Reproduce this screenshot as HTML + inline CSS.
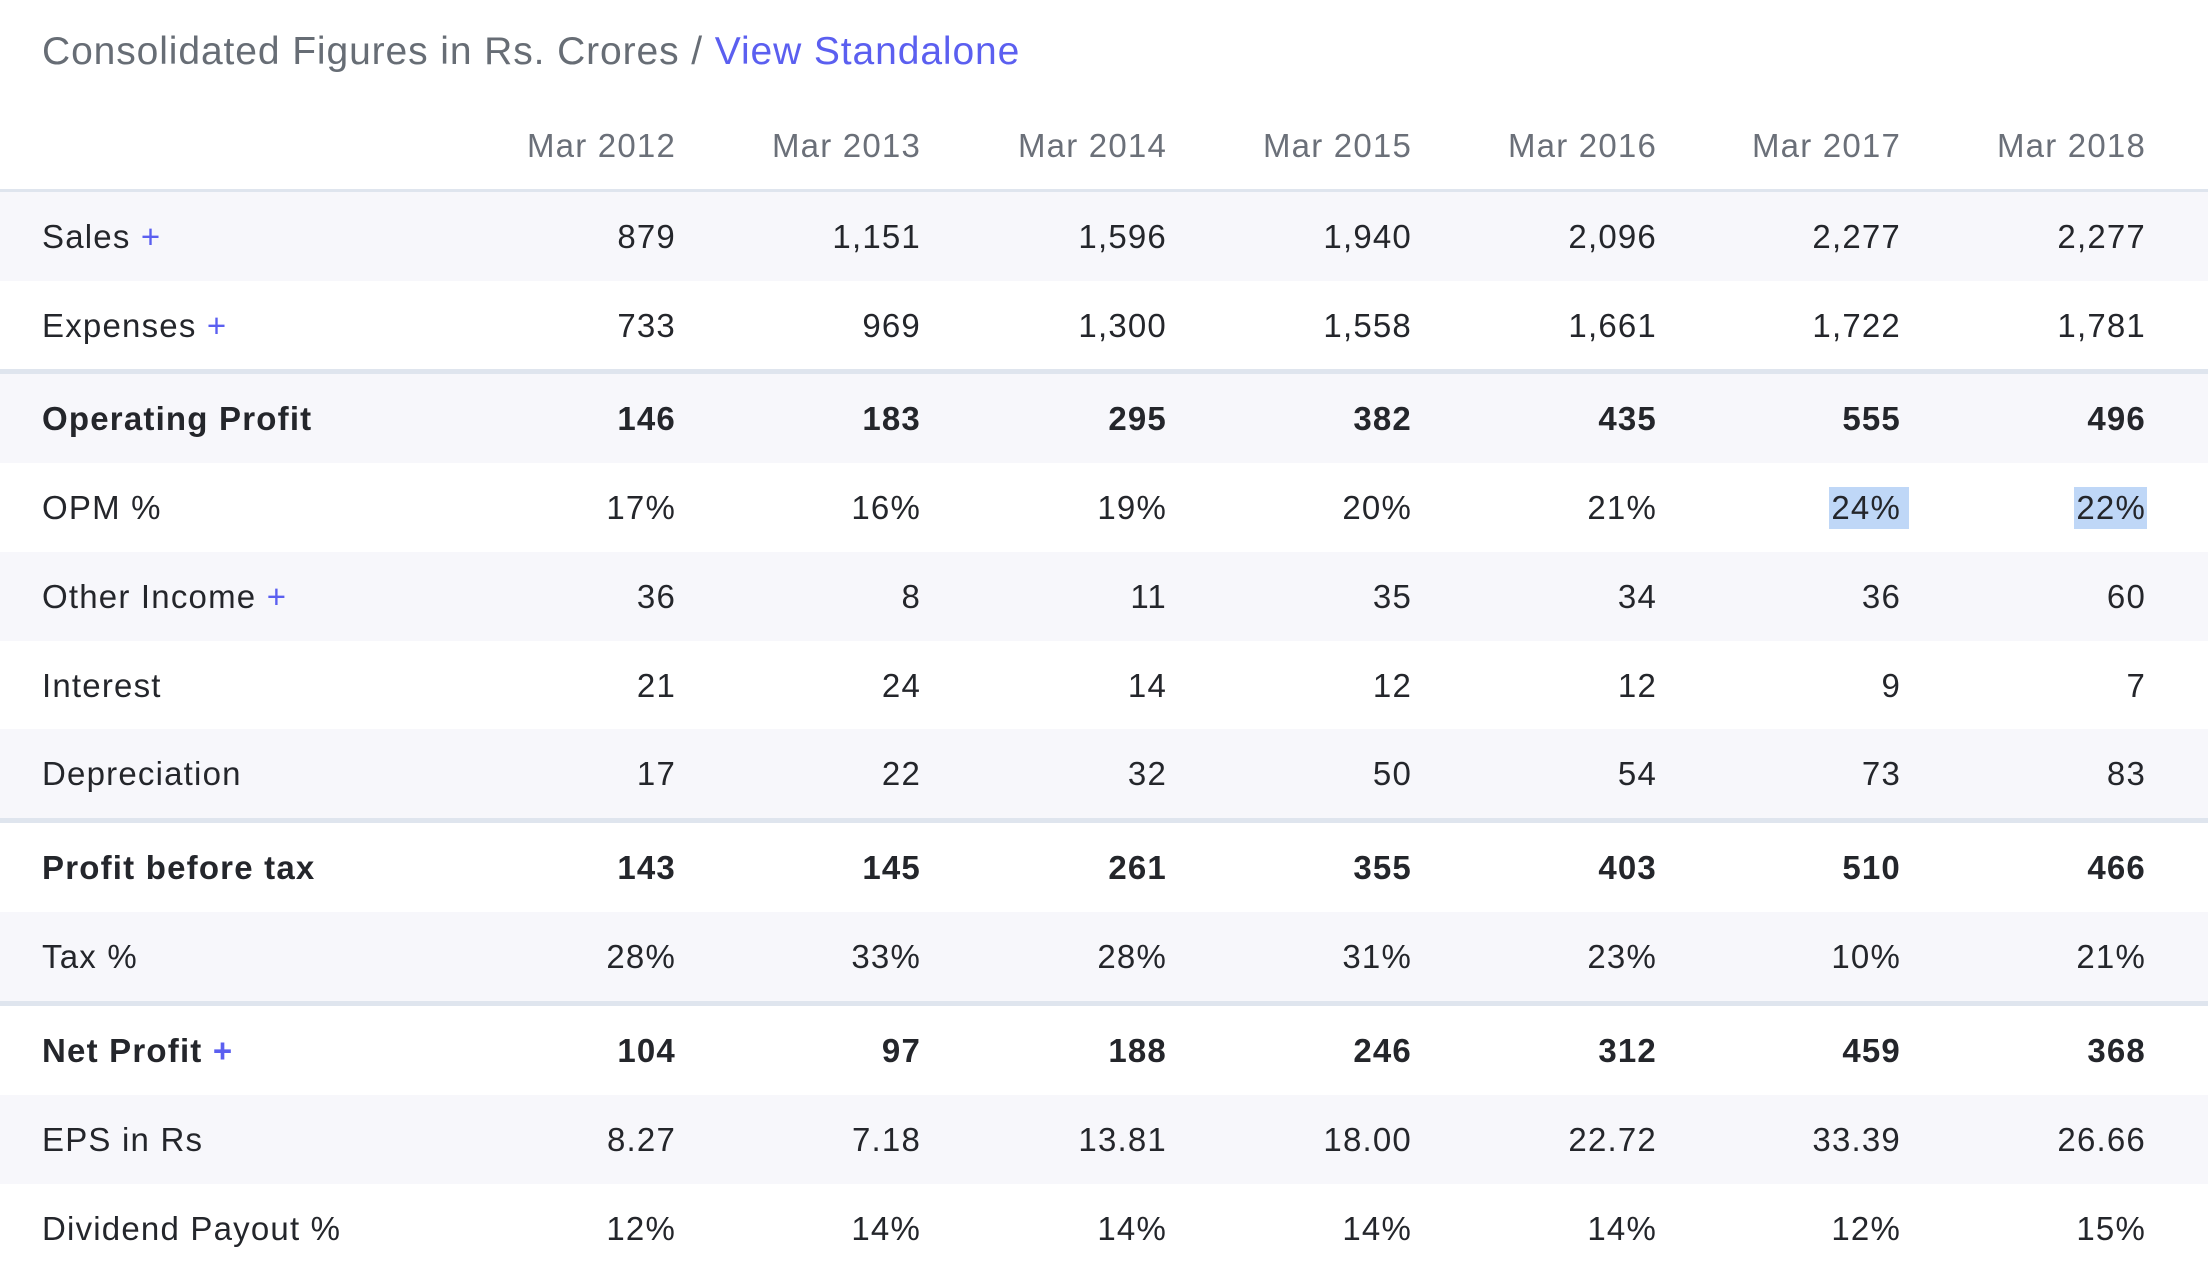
<!DOCTYPE html>
<html><head><meta charset="utf-8"><style>
*{margin:0;padding:0;box-sizing:border-box}
body{width:2208px;height:1266px;background:#fff;font-family:"Liberation Sans",sans-serif;position:relative;overflow:hidden;color:#24262b}
.title{position:absolute;left:42px;top:29px;font-size:39px;letter-spacing:0.9px;color:#676d75;line-height:46px;white-space:nowrap}
.title a{color:#5b5ff0;text-decoration:none}
.row{position:absolute;left:0;width:2208px;height:89px;font-size:33px;letter-spacing:1.2px}
.row.s{background:#f7f7fb}
.row .l{position:absolute;left:42px;top:0;line-height:89px;white-space:nowrap}
.row .v{position:absolute;top:0;line-height:89px;text-align:right;width:200px}
.row.b{font-weight:bold}
.hdr{color:#6b7079}
.sep{position:absolute;left:0;width:2208px;height:5px;background:#dfe5ee}
.plus{color:#5b5ff0}
.hl{background:#bfd7f7}
</style></head><body>
<div class="title">Consolidated Figures in Rs. Crores / <a>View Standalone</a></div>

<div class="row hdr" style="top:101px">
<span class="v" style="left:476px">Mar 2012</span><span class="v" style="left:721px">Mar 2013</span><span class="v" style="left:967px">Mar 2014</span><span class="v" style="left:1212px">Mar 2015</span><span class="v" style="left:1457px">Mar 2016</span><span class="v" style="left:1701px">Mar 2017</span><span class="v" style="left:1946px">Mar 2018</span>
</div>
<div class="sep" style="top:189px;height:3px"></div>

<div class="row s" style="top:192px"><span class="l">Sales <span class="plus">+</span></span>
<span class="v" style="left:476px">879</span><span class="v" style="left:721px">1,151</span><span class="v" style="left:967px">1,596</span><span class="v" style="left:1212px">1,940</span><span class="v" style="left:1457px">2,096</span><span class="v" style="left:1701px">2,277</span><span class="v" style="left:1946px">2,277</span></div>
<div class="row" style="top:281px"><span class="l">Expenses <span class="plus">+</span></span>
<span class="v" style="left:476px">733</span><span class="v" style="left:721px">969</span><span class="v" style="left:967px">1,300</span><span class="v" style="left:1212px">1,558</span><span class="v" style="left:1457px">1,661</span><span class="v" style="left:1701px">1,722</span><span class="v" style="left:1946px">1,781</span></div>
<div class="sep" style="top:369px"></div>
<div class="row s b" style="top:374px"><span class="l">Operating Profit</span>
<span class="v" style="left:476px">146</span><span class="v" style="left:721px">183</span><span class="v" style="left:967px">295</span><span class="v" style="left:1212px">382</span><span class="v" style="left:1457px">435</span><span class="v" style="left:1701px">555</span><span class="v" style="left:1946px">496</span></div>
<div class="hl" style="position:absolute;left:1829px;top:487px;width:80px;height:42px"></div>
<div class="hl" style="position:absolute;left:2074px;top:487px;width:73px;height:42px"></div>
<div class="row" style="top:463px"><span class="l">OPM %</span>
<span class="v" style="left:476px">17%</span><span class="v" style="left:721px">16%</span><span class="v" style="left:967px">19%</span><span class="v" style="left:1212px">20%</span><span class="v" style="left:1457px">21%</span><span class="v" style="left:1701px">24%</span><span class="v" style="left:1946px">22%</span></div>
<div class="row s" style="top:552px"><span class="l">Other Income <span class="plus">+</span></span>
<span class="v" style="left:476px">36</span><span class="v" style="left:721px">8</span><span class="v" style="left:967px">11</span><span class="v" style="left:1212px">35</span><span class="v" style="left:1457px">34</span><span class="v" style="left:1701px">36</span><span class="v" style="left:1946px">60</span></div>
<div class="row" style="top:641px"><span class="l">Interest</span>
<span class="v" style="left:476px">21</span><span class="v" style="left:721px">24</span><span class="v" style="left:967px">14</span><span class="v" style="left:1212px">12</span><span class="v" style="left:1457px">12</span><span class="v" style="left:1701px">9</span><span class="v" style="left:1946px">7</span></div>
<div class="row s" style="top:729px"><span class="l">Depreciation</span>
<span class="v" style="left:476px">17</span><span class="v" style="left:721px">22</span><span class="v" style="left:967px">32</span><span class="v" style="left:1212px">50</span><span class="v" style="left:1457px">54</span><span class="v" style="left:1701px">73</span><span class="v" style="left:1946px">83</span></div>
<div class="sep" style="top:818px"></div>
<div class="row b" style="top:823px"><span class="l">Profit before tax</span>
<span class="v" style="left:476px">143</span><span class="v" style="left:721px">145</span><span class="v" style="left:967px">261</span><span class="v" style="left:1212px">355</span><span class="v" style="left:1457px">403</span><span class="v" style="left:1701px">510</span><span class="v" style="left:1946px">466</span></div>
<div class="row s" style="top:912px"><span class="l">Tax %</span>
<span class="v" style="left:476px">28%</span><span class="v" style="left:721px">33%</span><span class="v" style="left:967px">28%</span><span class="v" style="left:1212px">31%</span><span class="v" style="left:1457px">23%</span><span class="v" style="left:1701px">10%</span><span class="v" style="left:1946px">21%</span></div>
<div class="sep" style="top:1001px"></div>
<div class="row b" style="top:1006px"><span class="l">Net Profit <span class="plus">+</span></span>
<span class="v" style="left:476px">104</span><span class="v" style="left:721px">97</span><span class="v" style="left:967px">188</span><span class="v" style="left:1212px">246</span><span class="v" style="left:1457px">312</span><span class="v" style="left:1701px">459</span><span class="v" style="left:1946px">368</span></div>
<div class="row s" style="top:1095px"><span class="l">EPS in Rs</span>
<span class="v" style="left:476px">8.27</span><span class="v" style="left:721px">7.18</span><span class="v" style="left:967px">13.81</span><span class="v" style="left:1212px">18.00</span><span class="v" style="left:1457px">22.72</span><span class="v" style="left:1701px">33.39</span><span class="v" style="left:1946px">26.66</span></div>
<div class="row" style="top:1184px"><span class="l">Dividend Payout %</span>
<span class="v" style="left:476px">12%</span><span class="v" style="left:721px">14%</span><span class="v" style="left:967px">14%</span><span class="v" style="left:1212px">14%</span><span class="v" style="left:1457px">14%</span><span class="v" style="left:1701px">12%</span><span class="v" style="left:1946px">15%</span></div>
</body></html>
